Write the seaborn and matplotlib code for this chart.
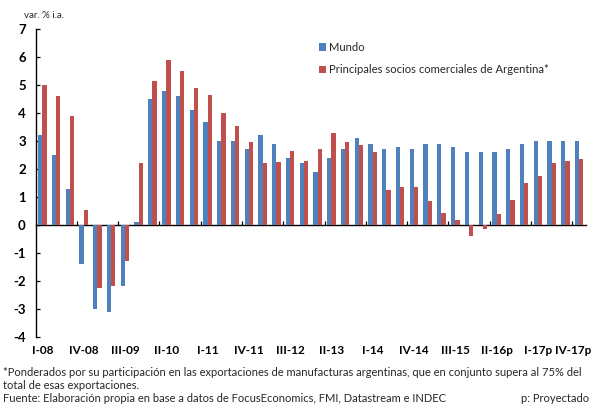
import numpy as np
import pandas as pd
import matplotlib
matplotlib.use("Agg")
import matplotlib.pyplot as plt
import matplotlib.transforms as mtransforms
import seaborn as sns

quarters = ["I-08", "II-08", "III-08", "IV-08", "I-09", "II-09", "III-09", "IV-09",
            "I-10", "II-10", "III-10", "IV-10", "I-11", "II-11", "III-11", "IV-11",
            "I-12", "II-12", "III-12", "IV-12", "I-13", "II-13", "III-13", "IV-13",
            "I-14", "II-14", "III-14", "IV-14", "I-15", "II-15", "III-15", "IV-15",
            "I-16p", "II-16p", "III-16p", "IV-16p", "I-17p", "II-17p", "III-17p", "IV-17p"]

mundo = [3.2, 2.5, 1.3, -1.4, -3.0, -3.1, -2.2, 0.1,
         4.5, 4.8, 4.6, 4.1, 3.7, 3.0, 3.0, 2.7,
         3.2, 2.9, 2.4, 2.2, 1.9, 2.4, 2.7, 3.1,
         2.9, 2.7, 2.8, 2.7, 2.9, 2.9, 2.8, 2.6,
         2.6, 2.6, 2.7, 2.9, 3.0, 3.0, 3.0, 3.0]

socios = [5.0, 4.6, 3.9, 0.55, -2.25, -2.2, -1.3, 2.2,
          5.15, 5.9, 5.5, 4.9, 4.65, 4.0, 3.55, 2.95,
          2.2, 2.25, 2.65, 2.3, 2.7, 3.3, 2.95, 2.85,
          2.6, 1.25, 1.35, 1.35, 0.86, 0.44, 0.18, -0.4,
          -0.15, 0.4, 0.9, 1.5, 1.75, 2.2, 2.3, 2.35]

series_names = ["Mundo", "Principales socios comerciales de Argentina*"]
colors = ["#4F81BD", "#C0504D"]

shown_labels = ["I-08", "IV-08", "III-09", "II-10", "I-11", "IV-11", "III-12",
                "II-13", "I-14", "IV-14", "III-15", "II-16p", "I-17p", "IV-17p"]
yticks = [-4, -3, -2, -1, 0, 1, 2, 3, 4, 5, 6, 7]

df = pd.DataFrame({
    "trimestre": quarters * 2,
    "valor": mundo + socios,
    "serie": [series_names[0]] * len(quarters) + [series_names[1]] * len(quarters),
})

sns.set_theme(style="white")
plt.rcParams["font.family"] = ["Lato", "DejaVu Sans"]

fig = plt.figure(figsize=(5.95, 4.08), dpi=100)
ax = fig.add_axes([35.5 / 595, 1 - 336.7 / 408, (586 - 35.5) / 595, (336.7 - 29.3) / 408])

sns.barplot(data=df, x="trimestre", y="valor", hue="serie", order=quarters,
            hue_order=series_names, palette=colors, width=0.62, gap=0,
            saturation=1, ax=ax, linewidth=0)

ax.set_xlim(-0.5, len(quarters) - 0.5)
ax.set_ylim(-4, 7)
ax.set_xlabel("")
ax.set_ylabel("")

# y axis
ax.set_yticks(yticks)
ax.set_yticklabels([str(v) for v in yticks], fontweight="bold", fontsize=9.5)
ax.tick_params(axis="y", direction="in", length=3, width=0.9, color="black",
               pad=7, left=True, labelcolor="black")
for s in ["top", "right", "bottom"]:
    ax.spines[s].set_visible(False)
ax.spines["left"].set_color("black")
ax.spines["left"].set_linewidth(1.0)

# x tick labels at the bottom
pos = [quarters.index(q) for q in shown_labels]
ax.set_xticks(pos)
ax.set_xticklabels(shown_labels, fontweight="bold", fontsize=8.5)
ax.tick_params(axis="x", length=0, pad=6, labelcolor="black")
last = ax.get_xticklabels()[-1]
last.set_transform(last.get_transform() +
                   mtransforms.ScaledTranslation(-4 / 72, 0, fig.dpi_scale_trans))

# zero line with small category separators
sec = ax.secondary_xaxis(4 / 11)
sec.spines["bottom"].set_color("black")
sec.spines["bottom"].set_linewidth(1.0)
sec.set_xticks(np.arange(2.5, len(quarters) - 1, 3))
sec.set_xticklabels([])
sec.tick_params(axis="x", direction="in", length=3, width=0.9, color="black")

ax.grid(False)

leg = ax.legend(loc="upper left", bbox_to_anchor=(319 / 595, 1 - 42 / 408),
                bbox_transform=fig.transFigure, frameon=False, fontsize=8.1,
                handlelength=0.6, handleheight=0.6, handletextpad=0.3,
                labelspacing=1.0, borderaxespad=0, borderpad=0)

fig.text(24 / 595, 1 - 16 / 408, "var. % i.a.", fontsize=7, va="center", ha="left")

fs = 8.0
fig.text(3 / 595, 1 - 373 / 408,
         "*Ponderados por su participación en las exportaciones de manufacturas argentinas, que en conjunto supera al 75% del",
         fontsize=fs, va="center", ha="left")
fig.text(3 / 595, 1 - 385.5 / 408, "total de esas exportaciones.",
         fontsize=fs, va="center", ha="left")
fig.text(3 / 595, 1 - 398 / 408,
         "Fuente: Elaboración propia en base a datos de FocusEconomics, FMI, Datastream e INDEC",
         fontsize=fs, va="center", ha="left")
fig.text(521 / 595, 1 - 398 / 408, "p: Proyectado",
         fontsize=fs, va="center", ha="left")

fig.savefig("out.png", dpi=100)
